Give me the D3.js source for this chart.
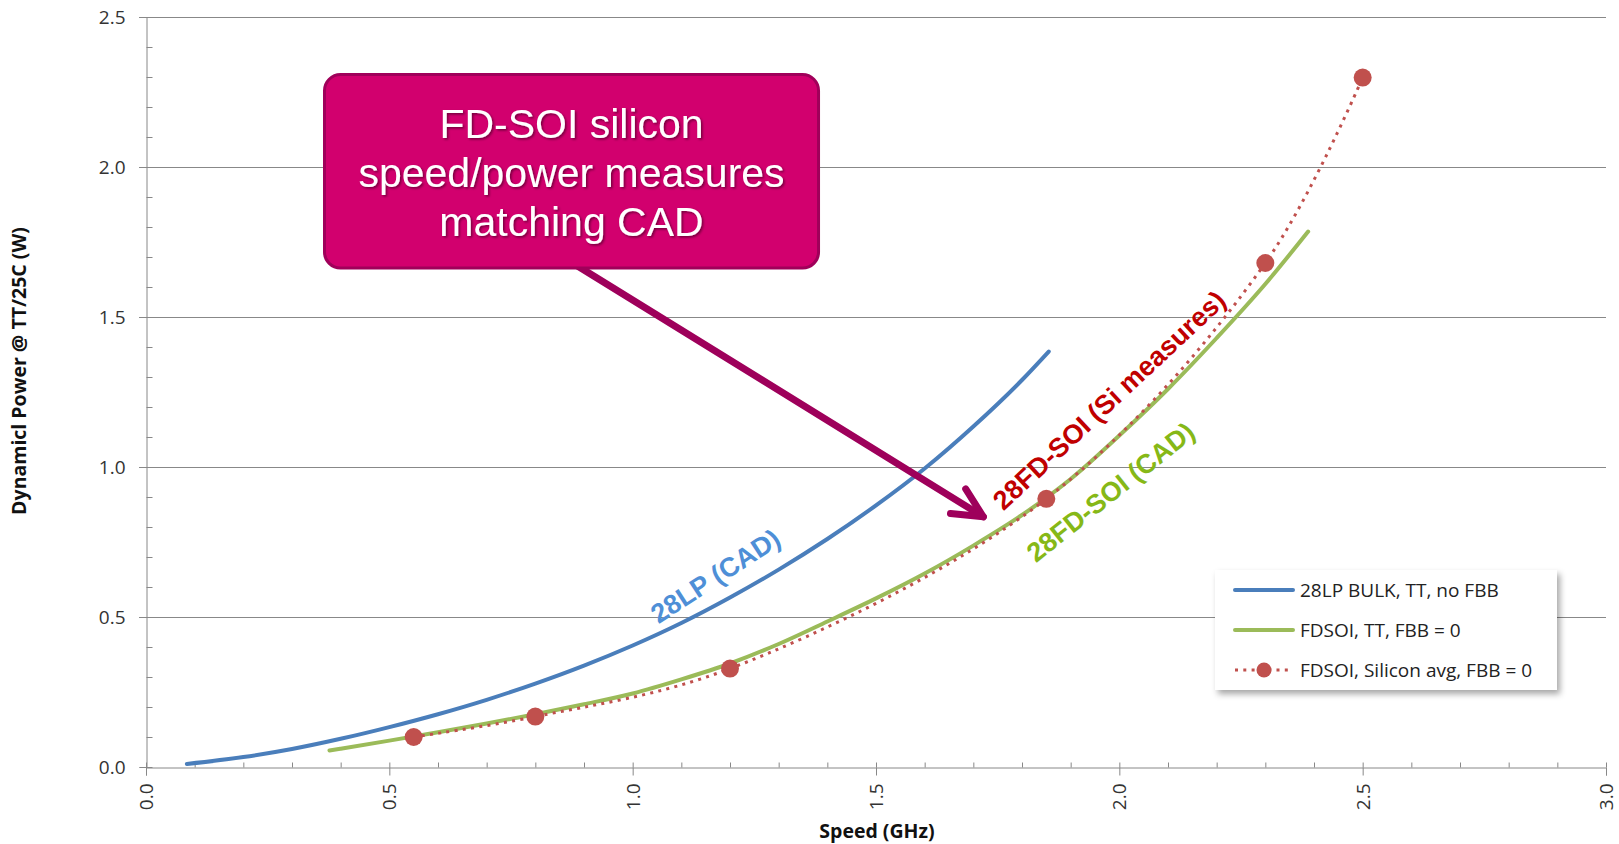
<!DOCTYPE html>
<html><head><meta charset="utf-8">
<script src="https://cdn.jsdelivr.net/npm/d3@7"></script>
<style>body{margin:0;background:#fff;} svg{display:block}</style>
</head><body>
<svg id="chart" width="1619" height="844"></svg>
<script>
// ---- data ----
const xTickValues = [0, 0.5, 1.0, 1.5, 2.0, 2.5, 3.0];
const yTickValues = [0, 0.5, 1.0, 1.5, 2.0, 2.5];

const bulkSpeed = [0.084, 0.2, 0.3, 0.4, 0.5, 0.6, 0.7, 0.8, 0.9, 1.0, 1.1, 1.2, 1.3, 1.4, 1.5, 1.6, 1.7, 1.8, 1.855];
const bulkPower = [0.010, 0.033, 0.060, 0.094, 0.133, 0.176, 0.224, 0.278, 0.338, 0.405, 0.480, 0.565, 0.658, 0.760, 0.872, 0.995, 1.135, 1.290, 1.385];

const cadSpeed = [0.377, 0.4, 0.5, 0.6, 0.7, 0.8, 0.9, 1.0, 1.1, 1.2, 1.3, 1.4, 1.5, 1.6, 1.7, 1.8, 1.9, 2.0, 2.1, 2.2, 2.3, 2.388];
const cadPower = [0.055, 0.061, 0.088, 0.116, 0.145, 0.176, 0.209, 0.245, 0.292, 0.345, 0.410, 0.485, 0.562, 0.645, 0.738, 0.840, 0.960, 1.105, 1.260, 1.430, 1.610, 1.785];

const siSpeed = [0.55, 0.80, 1.20, 1.85, 2.30, 2.50];
const siPower = [0.100, 0.168, 0.328, 0.894, 1.680, 2.298];

const seriesNames = ["28LP BULK, TT, no FBB", "FDSOI, TT, FBB = 0", "FDSOI, Silicon avg, FBB = 0"];
const calloutLines = ["FD-SOI silicon", "speed/power measures", "matching CAD"];

// ---- setup ----
const W = 1619, H = 844;
const svg = d3.select("#chart");
svg.append("rect").attr("width", W).attr("height", H).attr("fill", "#fff");

const x = d3.scaleLinear().domain([0, 3]).range([146, 1606]);
const y = d3.scaleLinear().domain([0, 2.5]).range([767, 17]);

const defs = svg.append("defs");
const f1 = defs.append("filter").attr("id", "legShadow").attr("x", "-10%").attr("y", "-10%").attr("width", "130%").attr("height", "140%");
f1.append("feDropShadow").attr("dx", 3).attr("dy", 4).attr("stdDeviation", 3).attr("flood-color", "#000").attr("flood-opacity", 0.35);
const f2 = defs.append("filter").attr("id", "txtShadow").attr("x", "-10%").attr("y", "-20%").attr("width", "120%").attr("height", "150%");
f2.append("feDropShadow").attr("dx", 1.5).attr("dy", 1.5).attr("stdDeviation", 1).attr("flood-color", "#000").attr("flood-opacity", 0.45);

const axisColor = "#888";
const minorVals = d3.range(0, 31).map(i => +(i * 0.1).toFixed(1));
const minorValsY = d3.range(0, 26).map(i => +(i * 0.1).toFixed(1));

// gridlines
svg.append("g").selectAll("line").data(yTickValues.filter(d => d > 0)).join("line")
  .attr("x1", x(0) - 7).attr("x2", x(3))
  .attr("y1", d => y(d) + 0.5).attr("y2", d => y(d) + 0.5)
  .attr("stroke", axisColor).attr("stroke-width", 1);

// y axis
const yAxis = svg.append("g").attr("transform", `translate(${x(0) + 0.5},0)`)
  .call(d3.axisLeft(y).tickValues(yTickValues).tickFormat(d3.format(".1f")).tickSize(7).tickPadding(14));
const yMinor = svg.append("g").attr("transform", `translate(${x(0) + 0.5},0)`)
  .call(d3.axisRight(y).tickValues(minorValsY).tickFormat("").tickSize(6));
yMinor.select(".domain").remove();

// x axis
const xAxis = svg.append("g").attr("transform", `translate(0,${y(0) + 0.5})`)
  .call(d3.axisBottom(x).tickValues(xTickValues).tickFormat(d3.format(".1f")).tickSize(8));
const xMinor = svg.append("g").attr("transform", `translate(0,${y(0) + 0.5})`)
  .call(d3.axisTop(x).tickValues(minorVals).tickFormat("").tickSize(5));
xMinor.select(".domain").remove();

[yAxis, yMinor, xAxis, xMinor].forEach(g => {
  g.selectAll("path,line").attr("stroke", axisColor);
});
yAxis.selectAll("text").attr("font-family", "'Open Sans', sans-serif").attr("font-size", 19).attr("fill", "#333");
xAxis.selectAll("text")
  .attr("transform", "rotate(-90)")
  .attr("x", -16).attr("y", 0).attr("dy", "0.35em")
  .attr("text-anchor", "end")
  .attr("font-family", "'Open Sans', sans-serif").attr("font-size", 19).attr("fill", "#333");

// axis titles
svg.append("text").attr("transform", `translate(19,371) rotate(-90)`)
  .attr("text-anchor", "middle").attr("dy", "0.35em")
  .attr("font-family", "'Open Sans', sans-serif").attr("font-weight", "bold").attr("font-size", 19.5).attr("fill", "#111")
  .text("Dynamicl Power @ TT/25C (W)");
svg.append("text").attr("x", 877).attr("y", 831).attr("dy", "0.35em")
  .attr("text-anchor", "middle")
  .attr("font-family", "'Open Sans', sans-serif").attr("font-weight", "bold").attr("font-size", 19.5).attr("fill", "#111")
  .text("Speed (GHz)");

// ---- series ----
const blueC = "#4A7EBB", greenC = "#9BBB59", redC = "#C0504D";

const lineGen = d3.line().x(d => x(d[0])).y(d => y(d[1])).curve(d3.curveMonotoneX);
const smoothGen = d3.line().x(d => x(d[0])).y(d => y(d[1])).curve(d3.curveCatmullRom.alpha(0.5));

svg.append("path").datum(d3.zip(bulkSpeed, bulkPower)).attr("d", lineGen)
  .attr("fill", "none").attr("stroke", blueC).attr("stroke-width", 4).attr("stroke-linecap", "round");
svg.append("path").datum(d3.zip(cadSpeed, cadPower)).attr("d", lineGen)
  .attr("fill", "none").attr("stroke", greenC).attr("stroke-width", 4).attr("stroke-linecap", "round");
svg.append("path").datum(d3.zip(siSpeed, siPower)).attr("d", smoothGen)
  .attr("fill", "none").attr("stroke", redC).attr("stroke-width", 3).attr("stroke-dasharray", "3,5.3");
svg.append("g").selectAll("circle").data(d3.zip(siSpeed, siPower)).join("circle")
  .attr("cx", d => x(d[0])).attr("cy", d => y(d[1])).attr("r", 9).attr("fill", redC);

// ---- curve labels ----
function label(txt, cx, cy, angle, color) {
  svg.append("text").attr("transform", `translate(${x(cx)},${y(cy)}) rotate(${angle})`)
    .attr("text-anchor", "middle").attr("dy", "0.35em")
    .attr("font-family", "'Liberation Sans', Arial, sans-serif").attr("font-weight", "bold")
    .attr("font-size", 27).attr("fill", color).text(txt);
}
label("28LP (CAD)", 1.170, 0.637, -33, "#4E8FD7");
label("28FD-SOI (Si measures)", 1.979, 1.223, -43, "#C00000");
label("28FD-SOI (CAD)", 1.982, 0.917, -38.5, "#86B817");

// ---- callout arrow ----
const arrowColor = "#9E005B";
const aStart = [0.840, 1.717], aTip = [1.7205, 0.834];
const p0 = [x(aStart[0]), y(aStart[1])], p1 = [x(aTip[0]), y(aTip[1])];
const ang = Math.atan2(p0[1] - p1[1], p0[0] - p1[0]);
const armLen = 33, armAng = 26 * Math.PI / 180;
const ag = svg.append("g").attr("stroke", arrowColor).attr("stroke-width", 7).attr("stroke-linecap", "round").attr("fill", "none");
ag.append("line").attr("x1", p0[0]).attr("y1", p0[1]).attr("x2", p1[0]).attr("y2", p1[1]);
ag.append("polyline").attr("stroke-linejoin", "round").attr("points", [
  [p1[0] + armLen * Math.cos(ang + armAng), p1[1] + armLen * Math.sin(ang + armAng)],
  p1,
  [p1[0] + armLen * Math.cos(ang - armAng), p1[1] + armLen * Math.sin(ang - armAng)]
].map(p => p.join(",")).join(" "));

// ---- callout box ----
const bx0 = x(0.3637), bx1 = x(1.385), by0 = y(2.313), by1 = y(1.658);
svg.append("rect").attr("x", bx0 + 1.5).attr("y", by0 + 1.5).attr("width", bx1 - bx0 - 3).attr("height", by1 - by0 - 3)
  .attr("rx", 16).attr("fill", "#D2006E").attr("stroke", "#A0005A").attr("stroke-width", 3);
const bcx = (bx0 + bx1) / 2;
svg.append("g").attr("filter", "url(#txtShadow)").selectAll("text").data(calloutLines).join("text")
  .attr("x", bcx).attr("y", (d, i) => 124 + i * 49).attr("dy", "0.35em")
  .attr("text-anchor", "middle").attr("font-family", "'Liberation Sans', Arial, sans-serif")
  .attr("font-size", 41).attr("fill", "#fff").text(d => d);

// ---- legend ----
const lg = svg.append("g");
lg.append("rect").attr("x", 1215).attr("y", 570).attr("width", 342).attr("height", 120)
  .attr("fill", "#fff").attr("filter", "url(#legShadow)");
const rows = [590, 630, 670];
lg.append("line").attr("x1", 1235).attr("x2", 1293).attr("y1", rows[0]).attr("y2", rows[0])
  .attr("stroke", blueC).attr("stroke-width", 4).attr("stroke-linecap", "round");
lg.append("line").attr("x1", 1235).attr("x2", 1293).attr("y1", rows[1]).attr("y2", rows[1])
  .attr("stroke", greenC).attr("stroke-width", 4).attr("stroke-linecap", "round");
lg.append("line").attr("x1", 1235).attr("x2", 1293).attr("y1", rows[2]).attr("y2", rows[2])
  .attr("stroke", redC).attr("stroke-width", 3).attr("stroke-dasharray", "3,5.3");
lg.append("circle").attr("cx", 1264).attr("cy", rows[2]).attr("r", 7.5).attr("fill", redC);
lg.selectAll("text.leg").data(seriesNames).join("text").attr("class", "leg")
  .attr("x", 1300).attr("y", (d, i) => rows[i]).attr("dy", "0.35em")
  .attr("font-family", "'Open Sans', sans-serif").attr("font-size", 19).attr("fill", "#222")
  .text(d => d);
</script>
</body></html>
